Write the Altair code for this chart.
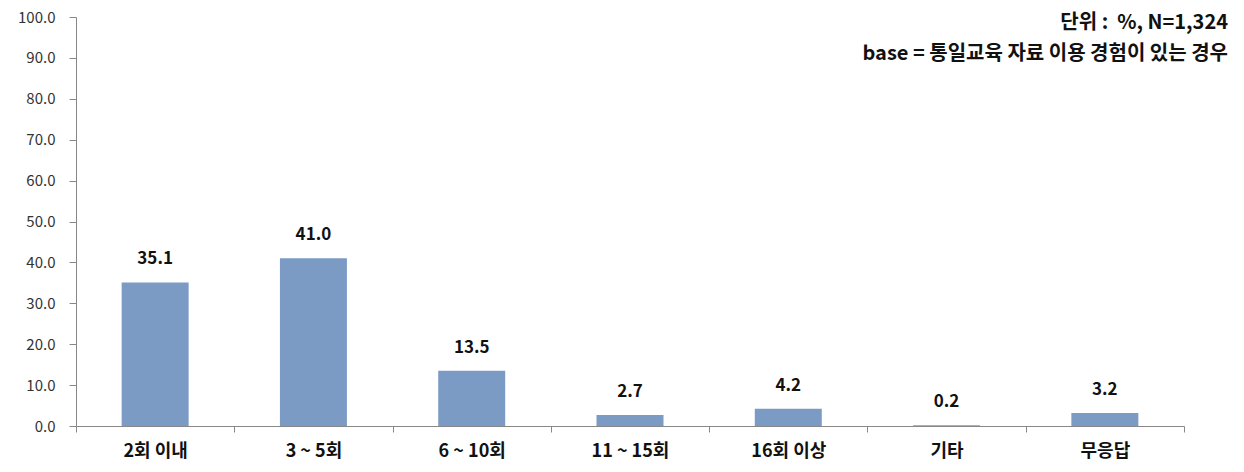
import altair as alt
import pandas as pd

categories = ["2회 이내", "3 ~ 5회", "6 ~ 10회", "11 ~ 15회", "16회 이상", "기타", "무응답"]
values = [35.1, 41.0, 13.5, 2.7, 4.2, 0.2, 3.2]
note_lines = ["단위 :\u00a0\u00a0%, N=1,324", "base = 통일교육 자료 이용 경험이 있는 경우"]

df = pd.DataFrame({"cat": categories, "val": values})
FONT = "Noto Sans CJK KR"

x = alt.X("cat:N", sort=categories, title=None,
          scale=alt.Scale(paddingInner=0, paddingOuter=0),
          axis=alt.Axis(labelAngle=0, labelFont=FONT, labelFontWeight="bold",
                        labelFontSize=18, labelColor="#111", labelPadding=10,
                        tickBand="extent", domainColor="#888", tickColor="#888",
                        tickSize=6))
y = alt.Y("val:Q", title=None,
          scale=alt.Scale(domain=[0, 100], nice=False),
          axis=alt.Axis(values=list(range(0, 101, 10)), format=".1f", grid=False,
                        labelFont=FONT, labelFontSize=15, labelColor="#333",
                        domainColor="#888", tickColor="#888", tickSize=7,
                        labelPadding=14))

bars = alt.Chart(df).mark_bar(color="#7b9bc5", size=67).encode(x=x, y=y)
labels = alt.Chart(df).mark_text(dy=-23, font=FONT, fontWeight="bold",
                                 fontSize=17, color="#111").encode(
    x=alt.X("cat:N", sort=categories), y="val:Q", text=alt.Text("val:Q", format=".1f"))

def note(t, ypix):
    return alt.Chart(pd.DataFrame({"t": [t]})).mark_text(
        align="right", baseline="middle", font=FONT, fontWeight="bold", fontSize=20,
        color="#111").encode(x=alt.value(1152), y=alt.value(ypix), text="t:N")

chart = alt.layer(bars, labels, note(note_lines[0], 6), note(note_lines[1], 37)).properties(
    width=1108, height=409,
    autosize=alt.AutoSizeParams(type="none"),
    padding={"left": 68, "top": 9, "right": 50, "bottom": 40},
).configure_view(stroke=None)

chart.save("out.html", embed_options={"renderer": "svg", "actions": False})
